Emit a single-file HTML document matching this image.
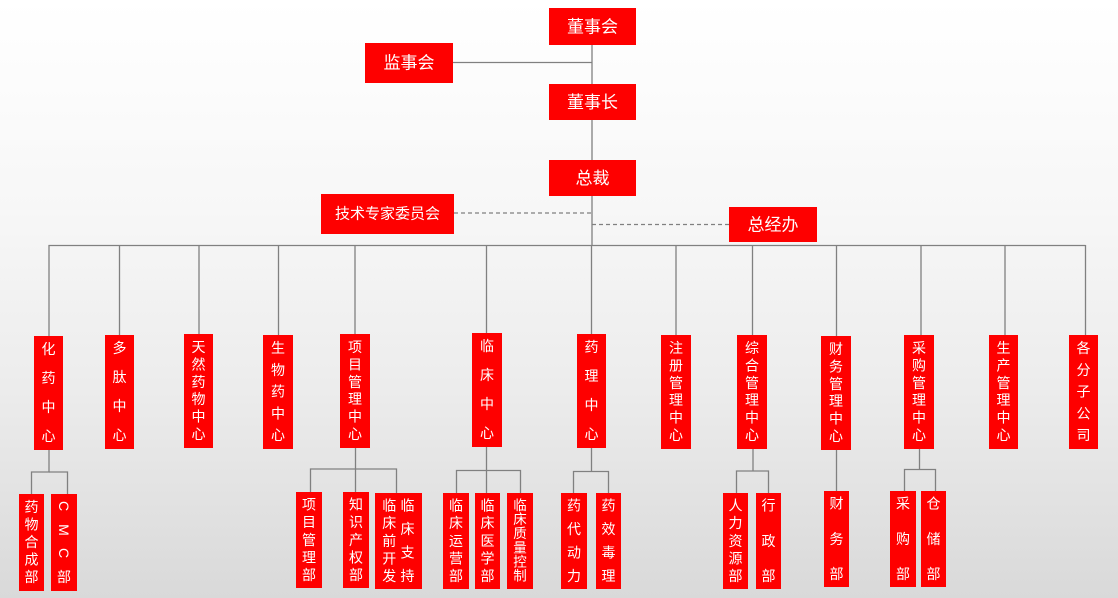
<!DOCTYPE html>
<html><head><meta charset="utf-8"><style>
html,body{margin:0;padding:0;}
body{width:1118px;height:598px;overflow:hidden;background:linear-gradient(180deg,#ffffff 0%,#f7f7f7 35%,#ececec 65%,#d9d9d9 100%);}
svg{display:block;}
text{font-family:"Liberation Sans","Noto Sans CJK SC","WenQuanYi Zen Hei",sans-serif;fill:#ffffff;text-anchor:middle;dominant-baseline:central;}
.t{font-size:17px;}
.v{font-size:14px;}
.b{fill:#fe0000;}
.l{stroke:#808080;stroke-width:1.3;fill:none;}
.d{stroke:#808080;stroke-width:1.3;fill:none;stroke-dasharray:4 3;}
</style></head><body>
<svg width="1118" height="598" viewBox="0 0 1118 598" xmlns="http://www.w3.org/2000/svg">
<!-- connectors top -->
<line class="l" x1="592" y1="44" x2="592" y2="84"/>
<line class="l" x1="453" y1="62.5" x2="592" y2="62.5"/>
<line class="l" x1="592" y1="120" x2="592" y2="160"/>
<line class="l" x1="592" y1="196" x2="592" y2="245.5"/>
<line class="d" x1="454" y1="213" x2="592" y2="213"/>
<line class="d" x1="592" y1="224.5" x2="729" y2="224.5"/>
<!-- bus -->
<line class="l" x1="48.5" y1="245.5" x2="1085.5" y2="245.5"/>
<line class="l" x1="49" y1="245" x2="49" y2="336"/>
<line class="l" x1="119.5" y1="245" x2="119.5" y2="335"/>
<line class="l" x1="199" y1="245" x2="199" y2="334"/>
<line class="l" x1="278.5" y1="245" x2="278.5" y2="335"/>
<line class="l" x1="355" y1="245" x2="355" y2="334"/>
<line class="l" x1="486.5" y1="245" x2="486.5" y2="333"/>
<line class="l" x1="591.5" y1="245" x2="591.5" y2="334"/>
<line class="l" x1="676" y1="245" x2="676" y2="335"/>
<line class="l" x1="752.5" y1="245" x2="752.5" y2="335"/>
<line class="l" x1="836.5" y1="245" x2="836.5" y2="336"/>
<line class="l" x1="921" y1="245" x2="921" y2="335"/>
<line class="l" x1="1005" y1="245" x2="1005" y2="335"/>
<line class="l" x1="1085.5" y1="245" x2="1085.5" y2="335"/>
<!-- level-3 connectors -->
<polyline class="l" points="49,450 49,472 31.5,472 31.5,494"/>
<polyline class="l" points="49,472 67.5,472 67.5,494"/>
<line class="l" x1="355.5" y1="448" x2="355.5" y2="492"/>
<polyline class="l" points="310.5,492 310.5,469 396.5,469 396.5,493"/>
<line class="l" x1="486.5" y1="447" x2="486.5" y2="493"/>
<polyline class="l" points="456.5,493 456.5,470.5 520.5,470.5 520.5,493"/>
<polyline class="l" points="591.5,448 591.5,471.5"/>
<polyline class="l" points="573.5,493 573.5,471.5 608.5,471.5 608.5,493"/>
<polyline class="l" points="753,449 753,471"/>
<polyline class="l" points="736.5,493 736.5,471 768.5,471 768.5,493"/>
<line class="l" x1="836.5" y1="450" x2="836.5" y2="491"/>
<polyline class="l" points="919.5,449 919.5,469.5"/>
<polyline class="l" points="904.5,491 904.5,469.5 935.5,469.5 935.5,491"/>

<!-- top boxes -->
<rect class="b" x="549" y="8" width="87" height="37"/><text class="t" x="592.5" y="27">董事会</text>
<rect class="b" x="365" y="43" width="88" height="40"/><text class="t" x="409" y="63">监事会</text>
<rect class="b" x="549" y="84" width="87" height="36"/><text class="t" x="592.5" y="102.5">董事长</text>
<rect class="b" x="549" y="160" width="87" height="36"/><text class="t" x="592.5" y="178.5">总裁</text>
<rect class="b" x="321" y="194" width="133" height="40"/><text x="387.5" y="214" style="font-size:15px">技术专家委员会</text>
<rect class="b" x="729" y="207" width="88" height="35"/><text class="t" x="773" y="225">总经办</text>

<!-- level-2 boxes -->
<rect class="b" x="34" y="336" width="29" height="114"/>
<g class="v"><text x="48.5" y="349">化</text><text x="48.5" y="378">药</text><text x="48.5" y="407">中</text><text x="48.5" y="436">心</text></g>
<rect class="b" x="105" y="335" width="29" height="114"/>
<g class="v"><text x="119.5" y="348">多</text><text x="119.5" y="377">肽</text><text x="119.5" y="406">中</text><text x="119.5" y="435">心</text></g>
<rect class="b" x="184" y="334" width="29" height="114"/>
<g class="v"><text x="198.5" y="347">天</text><text x="198.5" y="364.4">然</text><text x="198.5" y="381.8">药</text><text x="198.5" y="399.2">物</text><text x="198.5" y="416.6">中</text><text x="198.5" y="434">心</text></g>
<rect class="b" x="263" y="335" width="30" height="114"/>
<g class="v"><text x="278" y="348">生</text><text x="278" y="369.75">物</text><text x="278" y="391.5">药</text><text x="278" y="413.25">中</text><text x="278" y="435">心</text></g>
<rect class="b" x="340" y="334" width="30" height="114"/>
<g class="v"><text x="355" y="347">项</text><text x="355" y="364.4">目</text><text x="355" y="381.8">管</text><text x="355" y="399.2">理</text><text x="355" y="416.6">中</text><text x="355" y="434">心</text></g>
<rect class="b" x="472" y="333" width="30" height="114"/>
<g class="v"><text x="487" y="346">临</text><text x="487" y="375">床</text><text x="487" y="404">中</text><text x="487" y="433">心</text></g>
<rect class="b" x="577" y="334" width="29" height="114"/>
<g class="v"><text x="591.5" y="347">药</text><text x="591.5" y="376">理</text><text x="591.5" y="405">中</text><text x="591.5" y="434">心</text></g>
<rect class="b" x="661" y="335" width="30" height="114"/>
<g class="v"><text x="676" y="348">注</text><text x="676" y="365.4">册</text><text x="676" y="382.8">管</text><text x="676" y="400.2">理</text><text x="676" y="417.6">中</text><text x="676" y="435">心</text></g>
<rect class="b" x="737" y="335" width="30" height="114"/>
<g class="v"><text x="752" y="348">综</text><text x="752" y="365.4">合</text><text x="752" y="382.8">管</text><text x="752" y="400.2">理</text><text x="752" y="417.6">中</text><text x="752" y="435">心</text></g>
<rect class="b" x="821" y="336" width="30" height="114"/>
<g class="v"><text x="836" y="349">财</text><text x="836" y="366.4">务</text><text x="836" y="383.8">管</text><text x="836" y="401.2">理</text><text x="836" y="418.6">中</text><text x="836" y="436">心</text></g>
<rect class="b" x="904" y="335" width="30" height="114"/>
<g class="v"><text x="919" y="348">采</text><text x="919" y="365.4">购</text><text x="919" y="382.8">管</text><text x="919" y="400.2">理</text><text x="919" y="417.6">中</text><text x="919" y="435">心</text></g>
<rect class="b" x="989" y="335" width="29" height="114"/>
<g class="v"><text x="1003.5" y="348">生</text><text x="1003.5" y="365.4">产</text><text x="1003.5" y="382.8">管</text><text x="1003.5" y="400.2">理</text><text x="1003.5" y="417.6">中</text><text x="1003.5" y="435">心</text></g>
<rect class="b" x="1069" y="335" width="29" height="114"/>
<g class="v"><text x="1083.5" y="348">各</text><text x="1083.5" y="369.75">分</text><text x="1083.5" y="391.5">子</text><text x="1083.5" y="413.25">公</text><text x="1083.5" y="435">司</text></g>

<!-- level-3 boxes -->
<rect class="b" x="19" y="494" width="25" height="97"/>
<g class="v"><text x="31.5" y="507">药</text><text x="31.5" y="524.5">物</text><text x="31.5" y="542">合</text><text x="31.5" y="559.5">成</text><text x="31.5" y="577">部</text></g>
<rect class="b" x="51" y="494" width="26" height="97"/>
<g class="v"><text x="64" y="506" transform="rotate(90 64 506)">C</text><text x="64" y="530" transform="rotate(90 64 530)">M</text><text x="64" y="553" transform="rotate(90 64 553)">C</text><text x="64" y="577">部</text></g>

<rect class="b" x="296" y="492" width="26" height="96"/>
<g class="v"><text x="309" y="504.5">项</text><text x="309" y="522">目</text><text x="309" y="539.75">管</text><text x="309" y="557.4">理</text><text x="309" y="575">部</text></g>
<rect class="b" x="343" y="492" width="26" height="96"/>
<g class="v"><text x="356" y="504.5">知</text><text x="356" y="522">识</text><text x="356" y="539.75">产</text><text x="356" y="557.4">权</text><text x="356" y="575">部</text></g>
<rect class="b" x="375" y="493" width="47" height="96"/>
<g class="v"><text x="389.3" y="505.5">临</text><text x="389.3" y="523">床</text><text x="389.3" y="540.75">前</text><text x="389.3" y="558.4">开</text><text x="389.3" y="576">发</text>
<text x="407.5" y="505.5">临</text><text x="407.5" y="529">床</text><text x="407.5" y="552.5">支</text><text x="407.5" y="576">持</text></g>

<rect class="b" x="443" y="493" width="26" height="96"/>
<g class="v"><text x="456" y="505.5">临</text><text x="456" y="523">床</text><text x="456" y="540.75">运</text><text x="456" y="558.4">营</text><text x="456" y="576">部</text></g>
<rect class="b" x="475" y="493" width="25" height="96"/>
<g class="v"><text x="487.5" y="505.5">临</text><text x="487.5" y="523">床</text><text x="487.5" y="540.75">医</text><text x="487.5" y="558.4">学</text><text x="487.5" y="576">部</text></g>
<rect class="b" x="507" y="493" width="26" height="96"/>
<g style="font-size:13.5px"><text x="520" y="505.5">临</text><text x="520" y="519.6">床</text><text x="520" y="533.7">质</text><text x="520" y="547.8">量</text><text x="520" y="561.9">控</text><text x="520" y="576">制</text></g>

<rect class="b" x="561" y="493" width="26" height="96"/>
<g class="v"><text x="574" y="505.5">药</text><text x="574" y="529">代</text><text x="574" y="552.5">动</text><text x="574" y="576">力</text></g>
<rect class="b" x="596" y="493" width="25" height="96"/>
<g class="v"><text x="608.5" y="505.5">药</text><text x="608.5" y="529">效</text><text x="608.5" y="552.5">毒</text><text x="608.5" y="576">理</text></g>

<rect class="b" x="723" y="493" width="25" height="96"/>
<g class="v"><text x="735.5" y="505.5">人</text><text x="735.5" y="523">力</text><text x="735.5" y="540.75">资</text><text x="735.5" y="558.4">源</text><text x="735.5" y="576">部</text></g>
<rect class="b" x="756" y="493" width="25" height="96"/>
<g class="v"><text x="768.5" y="505.5">行</text><text x="768.5" y="540.75">政</text><text x="768.5" y="576">部</text></g>

<rect class="b" x="824" y="491" width="25" height="96"/>
<g class="v"><text x="836.5" y="503.5">财</text><text x="836.5" y="538.75">务</text><text x="836.5" y="574">部</text></g>

<rect class="b" x="890" y="491" width="26" height="96"/>
<g class="v"><text x="903" y="503.5">采</text><text x="903" y="538.75">购</text><text x="903" y="574">部</text></g>
<rect class="b" x="921" y="491" width="25" height="96"/>
<g class="v"><text x="933.5" y="503.5">仓</text><text x="933.5" y="538.75">储</text><text x="933.5" y="574">部</text></g>
</svg>
</body></html>
